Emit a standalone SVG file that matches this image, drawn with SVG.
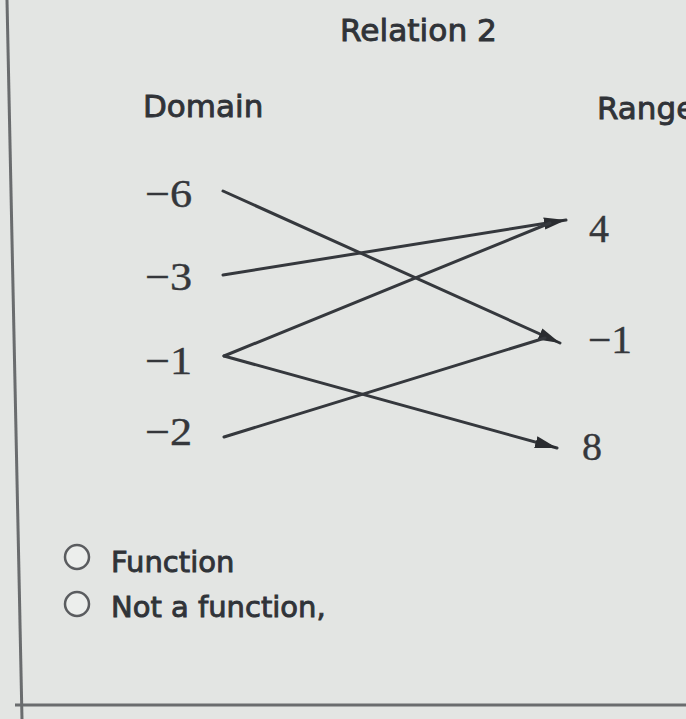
<svg xmlns="http://www.w3.org/2000/svg" width="686" height="719" viewBox="0 0 686 719">
<style>
.sans{font-family:"DejaVu Sans","Verdana",sans-serif;fill:#303338;stroke:#303338;stroke-width:0.9}
.num{font-family:"Liberation Serif","Times New Roman",serif;font-size:40px;fill:#35373b;stroke:#35373b;stroke-width:0.4}
.ln{stroke:#35383d;stroke-width:3;fill:none;stroke-linecap:round}
.radio{fill:#eceeec;stroke:#5a5c5f;stroke-width:2.5}
</style>
<defs>
<marker id="ah" markerUnits="userSpaceOnUse" markerWidth="24" markerHeight="14" refX="22" refY="7" orient="auto">
<path d="M0,1 L22,7 L0,13 Z" fill="#2a2c30"/>
</marker>
</defs>
<rect width="686" height="719" fill="#e3e5e3"/>
<line x1="7" y1="0" x2="22" y2="719" stroke="#6a6c6e" stroke-width="3"/>
<line x1="15" y1="705" x2="686" y2="705" stroke="#6a6c6e" stroke-width="3"/>
<g id="title"><text class="sans" x="340" y="41" font-size="30" textLength="157" lengthAdjust="spacingAndGlyphs">Relation 2</text></g>
<g id="domain-label"><text class="sans" x="143" y="117" font-size="31">Domain</text></g>
<g id="range-label"><text class="sans" x="597" y="119" font-size="31">Range</text></g>
<g id="d-6"><text class="num" x="145" y="207" textLength="47" lengthAdjust="spacingAndGlyphs">−6</text></g>
<g id="d-3"><text class="num" x="145" y="290" textLength="47" lengthAdjust="spacingAndGlyphs">−3</text></g>
<g id="d-1"><text class="num" x="145" y="374" textLength="47" lengthAdjust="spacingAndGlyphs">−1</text></g>
<g id="d-2"><text class="num" x="145" y="445" textLength="47" lengthAdjust="spacingAndGlyphs">−2</text></g>
<g id="r4"><text class="num" x="589" y="242">4</text></g>
<g id="r-1"><text class="num" x="588" y="353" textLength="44" lengthAdjust="spacingAndGlyphs">−1</text></g>
<g id="r8"><text class="num" x="582" y="460">8</text></g>
<g id="connectors">
<line class="ln" x1="223" y1="191" x2="560" y2="343" marker-end="url(#ah)"/>
<line class="ln" x1="223" y1="275" x2="566" y2="220" marker-end="url(#ah)"/>
<line class="ln" x1="224" y1="356" x2="550" y2="223"/>
<line class="ln" x1="224" y1="356" x2="557" y2="448" marker-end="url(#ah)"/>
<line class="ln" x1="224" y1="437" x2="545" y2="338"/>
</g>
<g id="opt-function">
<circle class="radio" cx="77" cy="557" r="12"/>
<text class="sans" x="111" y="572" font-size="29">Function</text>
</g>
<g id="opt-not">
<circle class="radio" cx="77" cy="604" r="12"/>
<text class="sans" x="111" y="617" font-size="29">Not a function,</text>
</g>
</svg>
